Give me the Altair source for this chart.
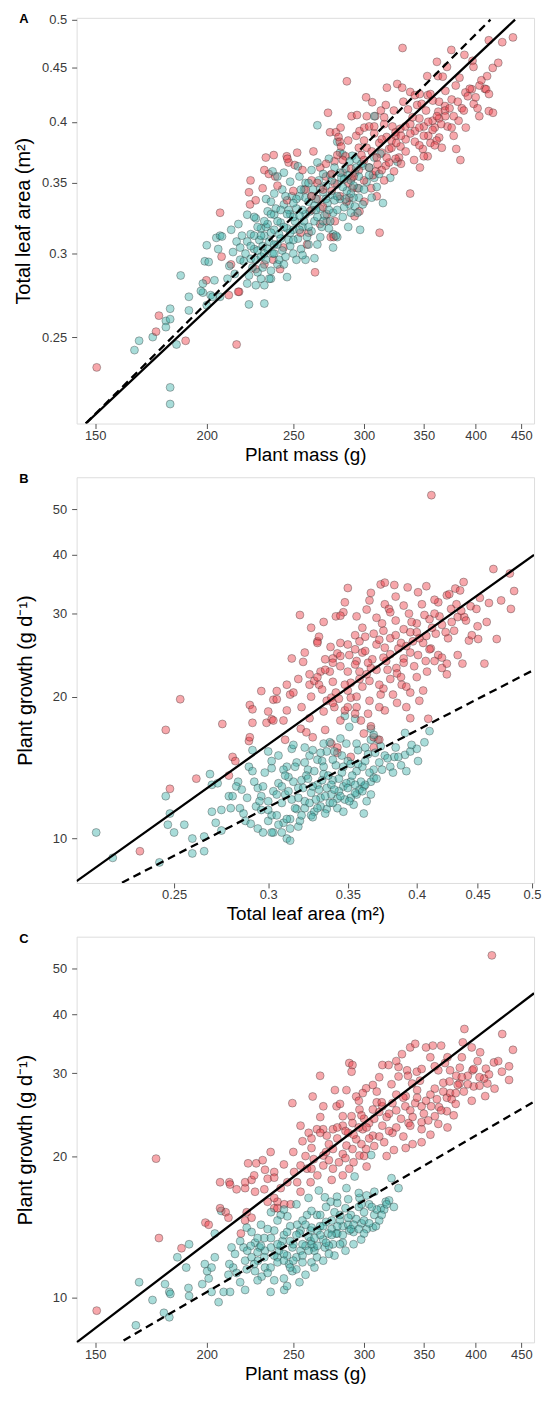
import altair as alt
import pandas as pd

FONT = "Liberation Sans"
RED = "#EE3B45"
TEAL = "#3DB2AB"

# ---------------- Panel A : plant mass (g) vs total leaf area (m2) ----------------
A_teal = [
    (166, 0.243), (168, 0.248), (174, 0.250), (180, 0.259), (182, 0.260), (182, 0.266), (180, 0.2555),
    (185, 0.246), (182, 0.224), (182, 0.216), (187, 0.286), (191, 0.273), (191, 0.265), (198, 0.281),
    (198, 0.2755), (197, 0.2765), (200, 0.268), (202, 0.274), (204, 0.283), (203, 0.273), (207, 0.273),
    (199, 0.295), (201, 0.2946), (200, 0.3055), (205, 0.3105), (207, 0.312), (208, 0.3114), (206, 0.303),
    (211, 0.284), (223, 0.2685), (232, 0.269), (222, 0.281), (227, 0.280), (232, 0.280), (236, 0.284),
    (230, 0.284), (224, 0.2966), (222, 0.3266), (227, 0.324), (230, 0.317), (233, 0.318), (234, 0.329),
    (238, 0.3266), (237, 0.359), (240, 0.355), (266, 0.397), (308, 0.405), (327, 0.3667), (321, 0.354),
    (280, 0.383), (282, 0.374), (284, 0.3725), (291, 0.3714), (294, 0.3687), (299, 0.3635), (258, 0.296),
    (235, 0.284), (277, 0.313), (280, 0.311), (289, 0.334), (293, 0.3325), (296, 0.339), (308, 0.354),
    (212, 0.292), (214, 0.301), (216, 0.308), (213, 0.316), (218, 0.296), (219, 0.312), (215, 0.287), (217, 0.320),
    (221, 0.300), (222, 0.308), (224, 0.313), (225, 0.291), (226, 0.303), (227, 0.296), (228, 0.318), (229, 0.309),
    (223, 0.286), (226, 0.325), (228, 0.288), (230, 0.298), (231, 0.305), (232, 0.312), (233, 0.296), (234, 0.320),
    (235, 0.308), (236, 0.289), (237, 0.300), (238, 0.316), (239, 0.331), (233, 0.338), (236, 0.327), (240, 0.293),
    (231, 0.291), (238, 0.342), (240, 0.306), (241, 0.313), (242, 0.321), (243, 0.302), (244, 0.334), (245, 0.298),
    (246, 0.317), (247, 0.309), (248, 0.327), (249, 0.340), (250, 0.300), (243, 0.345), (246, 0.285), (248, 0.351),
    (241, 0.296), (244, 0.358), (250, 0.316), (247, 0.330), (251, 0.322), (252, 0.331), (253, 0.310), (254, 0.340),
    (255, 0.303), (256, 0.318), (257, 0.345), (258, 0.327), (259, 0.311), (260, 0.336), (252, 0.296), (254, 0.355),
    (256, 0.299), (258, 0.350), (253, 0.363), (257, 0.322), (261, 0.329), (262, 0.315), (263, 0.345), (264, 0.322),
    (265, 0.338), (266, 0.306), (267, 0.352), (268, 0.331), (269, 0.318), (270, 0.343), (262, 0.360), (266, 0.366),
    (264, 0.297), (268, 0.311), (271, 0.326), (272, 0.348), (273, 0.335), (274, 0.317), (275, 0.356), (276, 0.341),
    (277, 0.328), (278, 0.362), (279, 0.312), (280, 0.349), (274, 0.369), (277, 0.304), (282, 0.338), (283, 0.354),
    (284, 0.325), (286, 0.361), (287, 0.344), (288, 0.318), (289, 0.367), (285, 0.332), (290, 0.352), (292, 0.339),
    (293, 0.358), (295, 0.328), (296, 0.346), (298, 0.365), (299, 0.334), (297, 0.316), (302, 0.351), (304, 0.362),
    (306, 0.339), (308, 0.370), (310, 0.347), (312, 0.357), (315, 0.335), (313, 0.373),
    (218, 0.304), (220, 0.295), (224, 0.305), (228, 0.302), (230, 0.312), (232, 0.322), (234, 0.303), (236, 0.314),
    (238, 0.300), (240, 0.322), (242, 0.310), (244, 0.318), (246, 0.327), (248, 0.305), (250, 0.325), (252, 0.338),
    (254, 0.316), (256, 0.330), (258, 0.339), (260, 0.318), (262, 0.340), (264, 0.333), (266, 0.325), (268, 0.346),
    (270, 0.322), (272, 0.338), (274, 0.330), (276, 0.352), (278, 0.337), (280, 0.330), (282, 0.358), (284, 0.347),
    (286, 0.338), (288, 0.356), (290, 0.342), (292, 0.348), (294, 0.362), (296, 0.355), (300, 0.345), (304, 0.356),
    (245, 0.340), (250, 0.335), (255, 0.345), (260, 0.350), (265, 0.330), (270, 0.357), (275, 0.322), (280, 0.340),
    (285, 0.353), (290, 0.328), (236, 0.336), (242, 0.330), (248, 0.314), (254, 0.326), (260, 0.306), (226, 0.312),
    (232, 0.300), (238, 0.306), (244, 0.293), (250, 0.309),
]
A_red = [
    (150.6, 0.234), (176.8, 0.262), (175.5, 0.253), (189.4, 0.248), (216, 0.246), (207, 0.328), (199.8, 0.283),
    (207.8, 0.298), (211.7, 0.274), (217.4, 0.276), (212.9, 0.293), (216.9, 0.276), (232.9, 0.370), (237.7, 0.372),
    (232, 0.360), (234.7, 0.357), (238.6, 0.355), (223.9, 0.352), (223, 0.343), (226.9, 0.337), (223.6, 0.334),
    (231, 0.346), (241.6, 0.290), (237.4, 0.296), (232, 0.293), (226.9, 0.290), (243.7, 0.304), (245.8, 0.371),
    (247, 0.366), (250.9, 0.364), (264.4, 0.288), (312.3, 0.314), (337.9, 0.342),
    (331.3, 0.470), (287, 0.437), (318.2, 0.431), (326.8, 0.4345), (273.4, 0.408), (290.5, 0.405), (294.6, 0.406),
    (301.6, 0.422), (306.4, 0.4175), (302.1, 0.405), (308.8, 0.405), (317.3, 0.415), (313.3, 0.410),
    (440.4, 0.481), (428.4, 0.476), (413.8, 0.478), (375.7, 0.468), (388.6, 0.463), (362, 0.456), (396.8, 0.457),
    (397.8, 0.451), (371.5, 0.451), (353.1, 0.442), (363, 0.442), (367.5, 0.4415), (383.7, 0.4405), (396.1, 0.4295),
    (389.6, 0.4265), (409.5, 0.430), (411, 0.4295),
    (331, 0.431), (337.9, 0.427), (342, 0.424), (346.3, 0.425), (353.5, 0.424), (358.2, 0.419), (369.6, 0.414),
    (369.6, 0.410), (363.3, 0.409), (382.8, 0.401), (403.8, 0.405), (413.8, 0.4095), (418.3, 0.408), (380.5, 0.377),
    (384.6, 0.368), (364.1, 0.3865), (361.7, 0.384), (366.6, 0.378), (349.1, 0.377), (341.3, 0.368), (346.5, 0.362),
    (353.5, 0.371), (350, 0.371), (328.3, 0.370), (329.6, 0.379), (325.4, 0.388), (322.8, 0.396),
    (274.8, 0.391), (279, 0.391), (282.4, 0.395), (280.9, 0.387), (281.8, 0.383), (282.8, 0.379), (263.3, 0.375),
    (252.5, 0.374), (246.2, 0.369), (294, 0.388), (296.5, 0.392), (300.2, 0.395), (304, 0.396), (325.4, 0.391),
    (329.4, 0.394), (333.7, 0.396), (292.8, 0.3255), (296.5, 0.329), (300.2, 0.336), (286.7, 0.336), (288.8, 0.339),
    (291.2, 0.346), (295, 0.346), (290.5, 0.354), (275.3, 0.311), (277.4, 0.311), (267.8, 0.320), (272.5, 0.322),
    (272.5, 0.327), (278.3, 0.322), (259, 0.306), (254.7, 0.314), (260.1, 0.314), (305.6, 0.346), (306.9, 0.356),
    (309.3, 0.359), (310.6, 0.3645), (317.3, 0.3635), (320, 0.366), (325.4, 0.369), (324.1, 0.359),
    (258, 0.345), (262, 0.352), (266, 0.338), (268, 0.362), (272, 0.355), (276, 0.344), (278, 0.367), (284, 0.358),
    (286, 0.371), (288, 0.350), (298, 0.372), (302, 0.378), (304, 0.362), (312, 0.382), (314, 0.374), (318, 0.387),
    (320, 0.377), (308, 0.390), (316, 0.398), (322, 0.384), (334, 0.385), (338, 0.398), (342, 0.392), (346, 0.403),
    (350, 0.396), (354, 0.388), (358, 0.401), (336, 0.411), (344, 0.415), (352, 0.410), (356, 0.382), (360, 0.395),
    (364, 0.403), (372, 0.396), (376, 0.420), (378, 0.388), (386, 0.412), (392, 0.423), (398, 0.416), (404, 0.433),
    (370, 0.428), (380, 0.433), (310, 0.340), (316, 0.352), (300, 0.352), (270, 0.332), (282, 0.340), (250, 0.344),
    (256, 0.360), (262, 0.330), (246, 0.337), (240, 0.348),
    (266, 0.350), (272, 0.365), (278, 0.350), (284, 0.368), (290, 0.361), (296, 0.360), (300, 0.368), (306, 0.375),
    (310, 0.370), (314, 0.385), (318, 0.370), (322, 0.378), (326, 0.382), (330, 0.388), (334, 0.375), (338, 0.390),
    (342, 0.383), (346, 0.395), (350, 0.388), (354, 0.400), (358, 0.393), (362, 0.405), (366, 0.398), (370, 0.405),
    (374, 0.412), (378, 0.405), (382, 0.418), (388, 0.410), (394, 0.430), (400, 0.422), (406, 0.438), (412, 0.442),
    (418, 0.450), (424, 0.455), (300, 0.384), (308, 0.396), (316, 0.404), (324, 0.410), (332, 0.418), (340, 0.404),
    (348, 0.416), (356, 0.425), (364, 0.418), (280, 0.372), (288, 0.384), (296, 0.378), (262, 0.340), (270, 0.345),
    (276, 0.357), (292, 0.355), (314, 0.360), (330, 0.365), (346, 0.380), (360, 0.380), (376, 0.395), (390, 0.395),
    (402, 0.412), (414, 0.425),
]

# ---------------- Panel B : total leaf area (m2) vs plant growth (g/d) ----------------
B_teal = [
    (0.215, 10.3), (0.222, 9.1), (0.243, 8.9), (0.246, 12.3), (0.248, 11.3), (0.247, 10.7), (0.250, 10.3),
    (0.255, 10.7), (0.259, 10.0), (0.259, 9.3), (0.265, 10.1), (0.265, 9.4), (0.268, 13.7), (0.269, 13.0),
    (0.272, 13.1), (0.269, 11.4), (0.274, 11.5), (0.271, 10.8), (0.274, 10.4), (0.278, 12.3), (0.280, 12.3),
    (0.279, 11.6), (0.283, 13.2), (0.282, 12.9), (0.284, 11.6), (0.286, 11.3), (0.287, 10.9), (0.290, 10.75),
    (0.289, 14.2), (0.291, 15.4), (0.291, 13.9), (0.292, 13.2), (0.294, 12.8), (0.297, 12.9), (0.296, 12.3),
    (0.293, 11.7), (0.294, 10.5), (0.297, 10.3), (0.300, 10.9), (0.302, 11.2), (0.303, 10.3), (0.302, 14.1),
    (0.348, 18.2), (0.355, 17.95), (0.351, 17.25), (0.366, 17.1), (0.366, 16.2), (0.371, 16.2), (0.373, 15.7),
    (0.391, 16.75), (0.383, 14.9), (0.391, 15.05), (0.395, 15.3), (0.400, 15.5), (0.401, 14.6), (0.406, 16.0),
    (0.410, 16.9), (0.361, 11.3), (0.366, 13.2), (0.368, 13.45), (0.361, 12.9), (0.356, 12.4), (0.352, 12.2),
    (0.347, 12.9), (0.343, 12.15), (0.336, 11.55), (0.332, 11.7), (0.326, 11.2), (0.322, 11.6), (0.317, 11.55),
    (0.313, 11.0), (0.309, 10.8), (0.306, 10.7), (0.302, 10.3), (0.311, 10.0), (0.308, 10.3), (0.313, 10.5),
    (0.318, 10.6), (0.313, 9.9), (0.336, 15.3), (0.334, 15.9), (0.332, 15.2), (0.330, 14.7), (0.322, 15.6),
    (0.314, 15.5), (0.311, 14.2),
    (0.300, 12.0), (0.303, 12.6), (0.306, 13.1), (0.308, 11.9), (0.310, 12.4), (0.312, 13.5), (0.314, 12.1),
    (0.316, 11.6), (0.318, 12.8), (0.320, 13.3), (0.322, 12.0), (0.324, 14.0), (0.326, 12.5), (0.328, 11.4),
    (0.330, 13.0), (0.332, 12.2), (0.334, 13.7), (0.336, 12.8), (0.338, 11.9), (0.340, 13.3), (0.342, 14.3),
    (0.344, 12.6), (0.346, 13.8), (0.348, 12.1), (0.350, 14.6), (0.352, 13.2), (0.354, 11.8), (0.356, 13.9),
    (0.358, 12.7), (0.360, 14.2), (0.362, 13.0), (0.364, 15.1), (0.366, 12.4), (0.368, 14.0), (0.370, 13.4),
    (0.305, 11.2), (0.311, 11.0), (0.319, 10.9), (0.327, 11.1), (0.335, 11.3), (0.343, 11.6), (0.351, 12.0),
    (0.309, 14.0), (0.317, 14.5), (0.325, 15.0), (0.333, 14.6), (0.341, 15.3), (0.349, 15.9), (0.357, 15.4),
    (0.298, 13.8), (0.296, 11.5), (0.302, 14.6), (0.315, 15.8), (0.323, 13.6), (0.331, 12.7), (0.339, 12.4),
    (0.347, 11.4), (0.355, 12.5), (0.363, 12.0), (0.372, 14.5), (0.376, 15.0), (0.380, 14.2), (0.384, 15.6),
    (0.388, 14.3), (0.392, 13.9), (0.396, 15.8),
    (0.305, 12.4), (0.308, 12.9), (0.312, 12.6), (0.315, 13.2), (0.318, 12.2), (0.321, 12.8), (0.324, 13.4),
    (0.327, 12.9), (0.329, 12.1), (0.333, 13.3), (0.337, 13.6), (0.339, 13.0), (0.341, 12.7), (0.344, 13.4),
    (0.347, 14.2), (0.349, 13.1), (0.353, 13.6), (0.357, 14.4), (0.359, 13.2), (0.362, 14.6), (0.365, 13.8),
    (0.369, 15.2), (0.374, 14.0), (0.378, 14.8), (0.382, 13.8), (0.386, 14.9), (0.320, 11.2), (0.325, 11.9),
    (0.330, 11.6), (0.335, 12.3), (0.340, 11.9), (0.345, 12.3), (0.350, 12.8), (0.355, 13.0), (0.360, 12.6),
    (0.300, 11.5), (0.295, 12.0), (0.288, 12.2), (0.285, 12.7), (0.310, 13.6), (0.316, 14.2), (0.322, 14.5),
    (0.328, 13.9), (0.334, 14.2), (0.340, 14.7), (0.346, 15.0), (0.352, 14.4), (0.356, 15.9), (0.362, 15.6),
    (0.368, 16.6), (0.345, 16.3), (0.338, 16.0), (0.327, 15.4), (0.306, 15.0), (0.300, 15.3),
]
B_red = [
    (0.234, 9.4), (0.248, 12.75), (0.246, 17.0), (0.253, 19.75), (0.261, 13.4), (0.278, 13.6), (0.2745, 17.5),
    (0.280, 14.9), (0.2815, 14.6), (0.2895, 19.2), (0.291, 18.8), (0.291, 17.6), (0.289, 16.1), (0.2895, 16.4),
    (0.296, 20.55), (0.299, 17.6), (0.302, 17.9), (0.303, 19.7), (0.305, 20.55),
    (0.4115, 53.5), (0.464, 37.3), (0.479, 36.5), (0.483, 33.5), (0.480, 30.7), (0.471, 32.0), (0.438, 35.0),
    (0.431, 33.9), (0.424, 32.8), (0.417, 31.7), (0.414, 32.1), (0.373, 34.6), (0.376, 34.9), (0.383, 34.5),
    (0.393, 34.1), (0.401, 33.3), (0.4075, 34.3), (0.350, 34.0), (0.319, 29.8), (0.348, 31.7), (0.347, 30.2),
    (0.363, 30.6), (0.376, 31.4), (0.379, 30.7), (0.342, 29.6), (0.345, 29.7), (0.330, 26.2), (0.331, 26.8),
    (0.3385, 25.5), (0.343, 24.7), (0.340, 24.1), (0.338, 22.6), (0.332, 22.6), (0.314, 24.1), (0.321, 23.7),
    (0.305, 19.75), (0.303, 17.8), (0.309, 17.8), (0.311, 21.2), (0.313, 20.2), (0.311, 18.7), (0.325, 22.3),
    (0.325, 21.2), (0.328, 21.6), (0.331, 21.2), (0.333, 20.7), (0.336, 19.6), (0.339, 19.9), (0.341, 19.0),
    (0.348, 18.7), (0.352, 19.9), (0.350, 19.0), (0.3195, 17.1), (0.323, 16.8), (0.327, 16.4), (0.339, 15.9),
    (0.343, 15.6), (0.343, 15.2), (0.352, 14.9), (0.356, 19.0), (0.359, 17.8), (0.361, 16.7), (0.366, 17.3),
    (0.368, 16.4), (0.372, 16.2), (0.368, 15.6), (0.409, 17.95), (0.392, 19.0), (0.395, 20.4), (0.3885, 21.2),
    (0.376, 18.7), (0.373, 20.2), (0.420, 23.0), (0.424, 22.3), (0.437, 23.5), (0.424, 23.5), (0.433, 24.5),
    (0.4425, 26.3), (0.4505, 26.5), (0.456, 23.5), (0.467, 26.5), (0.432, 31.4), (0.433, 29.5), (0.4275, 30.7),
    (0.4385, 29.5), (0.444, 31.1), (0.449, 30.7), (0.400, 27.4), (0.4075, 26.9), (0.411, 25.3), (0.417, 24.5),
    (0.407, 23.8), (0.401, 24.5), (0.397, 26.2), (0.395, 27.4), (0.386, 25.3), (0.390, 24.1), (0.3845, 23.0),
    (0.377, 23.8), (0.366, 23.0), (0.363, 22.3), (0.356, 23.8), (0.358, 22.6), (0.351, 24.5),
    (0.330, 22.0), (0.335, 24.0), (0.340, 21.5), (0.345, 23.2), (0.350, 22.6), (0.355, 25.2), (0.360, 24.8),
    (0.365, 21.6), (0.370, 25.8), (0.375, 24.2), (0.380, 26.6), (0.385, 22.4), (0.390, 27.8), (0.395, 24.8),
    (0.400, 28.6), (0.405, 26.0), (0.410, 29.2), (0.415, 27.2), (0.420, 28.4), (0.425, 26.6), (0.430, 27.6),
    (0.360, 28.0), (0.370, 29.4), (0.380, 30.2), (0.390, 31.2), (0.355, 27.0), (0.345, 26.0), (0.340, 19.4),
    (0.350, 20.6), (0.360, 21.0), (0.370, 22.8), (0.380, 21.8), (0.390, 23.6), (0.400, 22.0), (0.410, 25.2),
    (0.420, 24.2), (0.320, 19.0), (0.325, 18.0), (0.335, 17.0), (0.345, 17.8), (0.355, 18.4), (0.365, 19.6),
    (0.375, 20.8), (0.385, 19.4), (0.395, 18.0), (0.405, 20.6), (0.310, 16.2), (0.300, 18.6), (0.315, 20.4),
    (0.330, 26.0), (0.440, 29.0), (0.450, 28.2), (0.460, 31.6), (0.435, 33.6), (0.365, 32.0), (0.375, 27.6),
    (0.335, 22.8), (0.340, 23.6), (0.345, 24.4), (0.350, 25.8), (0.355, 23.4), (0.358, 26.2), (0.362, 25.0),
    (0.367, 24.0), (0.372, 26.4), (0.376, 25.4), (0.380, 24.6), (0.384, 27.0), (0.388, 26.0), (0.392, 25.6),
    (0.396, 28.8), (0.402, 26.6), (0.406, 29.8), (0.412, 28.0), (0.418, 29.6), (0.423, 27.4), (0.428, 28.8),
    (0.436, 30.4), (0.445, 27.0), (0.452, 32.4), (0.458, 28.8), (0.362, 26.8), (0.368, 27.2), (0.374, 28.6),
    (0.384, 29.0), (0.394, 30.0), (0.404, 31.4), (0.414, 30.0), (0.426, 33.0), (0.352, 21.4), (0.358, 21.8),
    (0.364, 23.6), (0.372, 21.2), (0.378, 22.8), (0.388, 22.0), (0.398, 23.2), (0.408, 22.6), (0.414, 23.8),
    (0.342, 20.4), (0.348, 21.2), (0.356, 20.0), (0.364, 18.4), (0.372, 19.0), (0.382, 20.2), (0.392, 21.0),
    (0.402, 19.6), (0.334, 18.6), (0.344, 19.8), (0.326, 20.0), (0.318, 21.8), (0.322, 24.8), (0.326, 28.0),
    (0.334, 28.8), (0.356, 29.6), (0.366, 33.2), (0.384, 32.6),
]

# ---------------- Panel C : plant mass (g) vs plant growth (g/d) ----------------
C_teal = [
    (166.6, 8.75), (168, 10.8), (173.9, 9.9), (179.6, 10.7), (181.6, 10.3), (182.1, 10.2), (179.1, 9.3),
    (181.6, 9.1), (185.4, 12.2), (189.7, 11.6), (190.8, 10.5), (191.1, 10.1), (191.1, 13.0), (197.7, 10.7),
    (199, 11.8), (200.2, 11.4), (202.5, 11.6), (201, 11.0), (206.2, 9.8), (202.5, 10.3), (208.9, 10.3),
    (212.4, 10.3), (204.2, 12.2), (207.6, 15.3), (204.2, 13.7), (213.2, 12.8), (215.1, 12.4), (219.9, 12.8),
    (220.8, 12.0), (214.1, 11.6), (216, 11.3), (221.7, 11.5), (211.5, 11.2), (221.7, 14.1), (224.5, 13.8),
    (226.5, 13.1), (229.2, 12.8), (232.4, 12.6), (224.5, 12.2), (228.2, 12.0), (232.4, 11.6), (226.5, 11.4),
    (230.4, 11.1), (220.8, 10.4), (235.8, 10.3),
    (267, 16.9), (271.2, 16.35), (275.3, 16.0), (279.8, 16.4), (286.7, 17.1), (292.8, 18.1), (296.5, 16.3),
    (305.6, 20.1), (308.1, 16.8), (317.3, 16.0), (322, 17.95), (327.9, 17.1), (313.3, 15.5), (306.9, 14.1),
    (309.3, 14.2), (297.8, 13.3), (244.2, 10.4), (249.4, 11.4), (247.2, 11.8), (240, 12.2), (235.8, 11.6),
    (241, 12.6), (243.1, 13.2), (249.4, 12.8), (254.7, 12.6), (261.4, 13.2), (265.7, 12.2), (263.5, 12.8),
    (271.2, 12.8), (276.9, 13.0), (279.2, 13.7), (284, 14.2), (288.8, 13.9), (273.5, 13.7), (267.9, 14.2),
    (265.7, 15.0), (261.4, 13.9), (254.7, 13.9), (252.5, 14.3), (246.2, 14.9), (242, 15.0), (259, 15.0),
    (228, 12.5), (232, 13.4), (236, 12.8), (238, 13.9), (240, 11.9), (242, 12.9), (244, 13.6), (246, 12.3),
    (248, 14.2), (250, 13.0), (252, 12.2), (254, 13.7), (256, 14.6), (258, 12.9), (260, 13.5), (262, 14.1),
    (264, 12.6), (266, 13.9), (268, 15.0), (270, 13.3), (272, 14.5), (274, 12.9), (276, 14.0), (278, 15.2),
    (280, 13.7), (282, 14.6), (284, 13.1), (286, 15.5), (288, 14.3), (290, 15.0), (292, 13.8), (294, 14.7),
    (296, 15.6), (298, 14.4), (300, 15.2), (302, 14.0), (304, 15.8), (308, 15.0), (312, 14.6), (316, 15.4),
    (320, 16.1), (324, 15.6), (234, 11.3), (244, 11.0), (252, 11.5), (258, 11.2), (262, 11.9), (270, 12.0),
    (278, 12.3), (286, 12.6), (254, 10.8), (246, 10.6), (238, 10.9), (226, 11.8), (222, 12.6), (218, 13.2),
    (230, 14.3), (236, 15.2), (244, 15.4), (252, 15.8), (260, 16.3), (228, 10.9), (218, 10.8), (212, 11.8),
    (232, 12.2), (236, 13.4), (240, 13.0), (244, 12.4), (248, 13.2), (252, 13.6), (256, 13.0), (260, 12.6),
    (262, 13.0), (266, 12.9), (268, 13.6), (272, 13.1), (276, 13.6), (280, 14.2), (284, 13.6), (288, 14.8),
    (292, 14.3), (296, 14.0), (300, 14.6), (304, 14.4), (310, 15.4), (314, 15.0), (318, 15.8), (250, 12.0),
    (256, 12.3), (264, 13.4), (270, 14.2), (276, 14.6), (282, 15.0), (290, 14.0), (298, 15.8), (306, 15.6),
    (246, 13.8), (240, 14.6), (234, 14.0), (228, 13.4), (224, 12.9), (258, 14.3), (262, 15.3), (272, 15.6),
    (280, 15.9), (288, 16.2), (296, 16.7), (302, 16.5), (244, 12.0), (248, 11.6), (256, 11.9), (264, 11.6),
    (274, 12.4), (282, 13.0), (292, 13.0), (300, 13.7), (238, 12.3), (230, 12.9),
]
C_red = [
    (150.6, 9.4), (175.5, 19.75), (176.8, 13.4), (187.4, 12.75), (199.3, 14.45), (201, 14.3), (207, 17.6),
    (212, 17.6), (212.4, 17.4), (216, 17.0), (220.8, 17.1), (220.8, 17.6), (224.5, 17.8), (222.5, 19.3),
    (227.2, 19.3), (231, 19.6), (235.8, 20.4), (232.4, 18.7), (238, 18.5), (234, 17.9), (226.5, 16.8),
    (221.7, 15.2), (220.8, 14.6), (224.5, 14.8), (218.4, 13.7), (210, 15.2), (211.5, 14.8), (207, 15.5),
    (238, 15.5), (240, 16.0),
    (417.1, 53.3), (428.4, 36.3), (440.4, 33.6), (419.3, 31.6), (410.7, 30.65), (412.3, 28.5), (408.8, 29.2),
    (398, 28.1), (388.6, 37.2), (387, 34.85), (396, 34.0), (404.7, 33.2), (396.8, 30.4), (383.7, 28.5),
    (371.4, 26.6), (374.5, 27.2), (363.3, 23.4), (352, 34.0), (358.2, 34.3), (366, 34.3), (355.9, 32.4),
    (369.6, 31.5), (363.3, 30.4), (374.5, 30.4), (380.5, 29.6), (381.9, 28.3), (330.8, 32.9), (337.9, 34.0),
    (342.3, 34.6), (327.9, 30.9), (335.2, 30.4), (343.7, 30.2), (346.5, 28.9), (339.6, 28.5), (327.9, 29.5),
    (319.6, 31.2), (314.5, 31.2), (288.8, 31.5), (291.2, 31.2), (290.5, 30.2), (267.9, 29.6), (286.7, 27.6),
    (278.3, 27.6), (301.6, 27.85), (306.9, 28.3), (299, 27.2), (294, 26.75), (249.4, 25.9), (262.8, 26.75),
    (270.1, 25.5), (279.5, 25.5), (284, 24.3), (290.5, 24.3), (296.5, 25.1), (306.9, 25.1), (314.5, 25.5),
    (322.8, 25.9), (333.7, 25.5), (342.3, 25.9), (348, 25.5), (356.6, 25.5), (336.5, 23.5), (348, 22.8),
    (360.1, 24.3), (371.4, 24.9), (254.7, 23.2), (260.1, 22.4), (265.7, 22.8), (272.5, 22.1), (276.9, 22.8),
    (284, 23.2), (291.2, 23.5), (299, 22.8), (304, 23.5), (314.5, 23.2), (322.8, 22.4), (306.9, 22.1),
    (294, 21.7), (286.7, 21.05), (276.9, 20.7), (270.1, 20.05), (263.5, 19.7), (254.7, 19.1), (250.5, 18.5),
    (246.2, 17.6), (242, 17.1), (238, 16.3), (234, 16.0), (240, 15.5), (244.2, 15.8), (248.3, 15.8),
    (254.7, 16.8), (261.4, 17.6), (252.5, 17.6), (259, 18.8), (270.1, 19.1), (281.2, 19.4), (276.9, 18.8),
    (288.8, 18.8), (284, 18.2), (296.5, 20.05), (301.6, 20.7), (291.2, 20.7),
    (300, 24.0), (310, 26.0), (318, 24.2), (326, 27.0), (334, 26.8), (344, 27.6), (352, 26.2), (360, 27.8),
    (368, 28.6), (376, 26.4), (384, 30.8), (392, 29.6), (402, 31.8), (288, 22.4), (296, 23.0), (304, 21.8),
    (312, 24.8), (320, 22.6), (330, 24.0), (338, 23.2), (280, 21.8), (270, 22.8), (262, 20.8), (256, 21.5),
    (266, 18.2), (274, 19.6), (284, 20.2), (292, 19.4), (300, 20.0), (308, 21.0), (316, 21.4), (324, 20.6),
    (332, 22.0), (340, 21.2), (348, 23.6), (356, 22.2), (364, 25.4), (372, 23.0), (380, 25.8), (388, 27.4),
    (396, 26.2), (404, 29.4), (410, 26.8), (420, 27.8), (428, 30.2), (436, 29.0), (244, 19.2), (238, 18.0),
    (250, 20.4), (232, 17.0), (226, 18.2),
    (262, 21.8), (268, 22.4), (274, 21.2), (280, 23.0), (286, 22.6), (292, 22.2), (298, 24.4), (302, 23.0),
    (308, 24.0), (314, 26.0), (320, 24.6), (326, 25.0), (332, 26.6), (338, 25.0), (344, 26.6), (350, 24.6),
    (356, 27.0), (362, 26.4), (368, 27.4), (374, 28.8), (380, 27.2), (386, 29.4), (392, 28.4), (398, 30.6),
    (404, 28.2), (414, 29.8), (424, 31.8), (436, 31.0), (282, 25.8), (296, 26.2), (310, 27.4), (322, 28.4),
    (336, 29.6), (348, 30.6), (360, 31.0), (372, 32.4), (386, 32.4), (298, 21.2), (312, 22.0), (326, 23.0),
    (340, 24.2), (354, 23.8), (366, 25.0), (378, 24.4), (272, 20.4), (286, 19.8), (302, 19.0), (318, 20.0),
    (334, 20.8), (348, 21.4), (262, 18.8), (276, 17.8), (258, 20.0), (268, 24.2), (312, 29.4), (326, 31.8),
]

# fitted lines (end points read where they meet the panel frame)
A_solid_x, A_solid_y = [146.4, 442.8], [0.207, 0.5]
A_dash_x, A_dash_y = [146.4, 415.6], [0.207, 0.5]
B_solid_x, B_solid_y = [0.207, 0.502], [8.12, 39.96]
B_dash_x, B_dash_y = [0.226, 0.502], [8.06, 22.8]
C_solid_x, C_solid_y = [143.0, 465.0], [8.05, 44.3]
C_dash_x, C_dash_y = [161.4, 465.0], [8.12, 26.1]

MASS_TICKS = [150, 200, 250, 300, 350, 400, 450]
AREA_TICKS = [0.25, 0.3, 0.35, 0.4, 0.45, 0.5]
GROWTH_TICKS = [10, 20, 30, 40, 50]
MASS_DOMAIN = [143, 465]
AREA_DOMAIN = [0.207, 0.502]
GROWTH_DOMAIN = [8.05, 58.4]

W, H = 460, 408
GAP = 54


def interleave(red, teal):
    rows = []
    for i in range(max(len(red), len(teal))):
        if i < len(teal):
            rows.append((teal[i][0], teal[i][1], "teal"))
        if i < len(red):
            rows.append((red[i][0], red[i][1], "red"))
    df = pd.DataFrame(rows, columns=["x", "y", "g"])
    df["o"] = range(len(df))
    return df


def make_axis(ticks, title, label_pad, title_pad, title_size):
    return alt.Axis(
        values=ticks, format="~g", title=title, grid=False, domain=False,
        ticks=True, tickSize=5, tickColor="#555555", tickWidth=1,
        labelFontSize=13, labelColor="#3a3a3a", labelFont=FONT, labelPadding=label_pad,
        labelFlush=False, labelOverlap=False,
        titleFontSize=title_size, titleFontWeight="normal", titleColor="black", titleFont=FONT,
        titlePadding=title_pad,
    )


def panel(red, teal, xdom, ydom, xticks, yticks, xtitle, ytitle, ytp, lines, letter, letter_dy):
    xs = alt.Scale(type="log", domain=xdom, nice=False, zero=False)
    ys = alt.Scale(type="log", domain=ydom, nice=False, zero=False)
    xa = make_axis(xticks, xtitle, 1, 3, 19)
    ya = make_axis(yticks, ytitle, 5, ytp, 20)
    df = interleave(red, teal)
    pts = alt.Chart(df).mark_circle(
        size=64, opacity=1, fillOpacity=0.45, stroke="#2a2a2a", strokeWidth=0.7,
        strokeOpacity=0.5, clip=True,
    ).encode(
        x=alt.X("x:Q", scale=xs, axis=xa, title=xtitle),
        y=alt.Y("y:Q", scale=ys, axis=ya, title=ytitle),
        color=alt.Color("g:N", scale=alt.Scale(domain=["red", "teal"], range=[RED, TEAL]), legend=None),
        order=alt.Order("o:Q"),
    )
    layers = [pts]
    for lx, ly, dashed in lines:
        ldf = pd.DataFrame({"x": lx, "y": ly})
        kw = dict(color="black", strokeWidth=2.3, clip=True)
        if dashed:
            kw["strokeDash"] = [8, 5]
        layers.append(
            alt.Chart(ldf).mark_line(**kw).encode(
                x=alt.X("x:Q", scale=xs, axis=xa, title=xtitle),
                y=alt.Y("y:Q", scale=ys, axis=ya, title=ytitle),
            )
        )
    txt = alt.Chart(pd.DataFrame({"t": [letter]})).mark_text(
        font=FONT, fontSize=13, fontWeight="bold", align="center", baseline="middle", color="black"
    ).encode(text="t:N", x=alt.value(-53), y=alt.value(letter_dy))
    layers.append(txt)
    return alt.layer(*layers).properties(width=W, height=H)


pA = panel(A_red, A_teal, MASS_DOMAIN, AREA_DOMAIN, MASS_TICKS, AREA_TICKS,
           "Plant mass (g)", "Total leaf area (m²)", 8,
           [(A_solid_x, A_solid_y, False), (A_dash_x, A_dash_y, True)], "A", 1)
pB = panel(B_red, B_teal, AREA_DOMAIN, GROWTH_DOMAIN, AREA_TICKS, GROWTH_TICKS,
           "Total leaf area (m²)", "Plant growth (g d\u207b\u00b9)", 17,
           [(B_solid_x, B_solid_y, False), (B_dash_x, B_dash_y, True)], "B", 2)
pC = panel(C_red, C_teal, MASS_DOMAIN, GROWTH_DOMAIN, MASS_TICKS, GROWTH_TICKS,
           "Plant mass (g)", "Plant growth (g d\u207b\u00b9)", 17,
           [(C_solid_x, C_solid_y, False), (C_dash_x, C_dash_y, True)], "C", 2)

chart = alt.vconcat(pA, pB, pC, spacing=GAP, bounds="flush").properties(
    padding={"left": 5, "top": 0, "right": 0, "bottom": 0},
    background="white",
).configure_view(stroke="#9a9a9a", strokeWidth=1).configure(font=FONT)

chart.save("out.html", embed_options={"renderer": "svg", "actions": False})
